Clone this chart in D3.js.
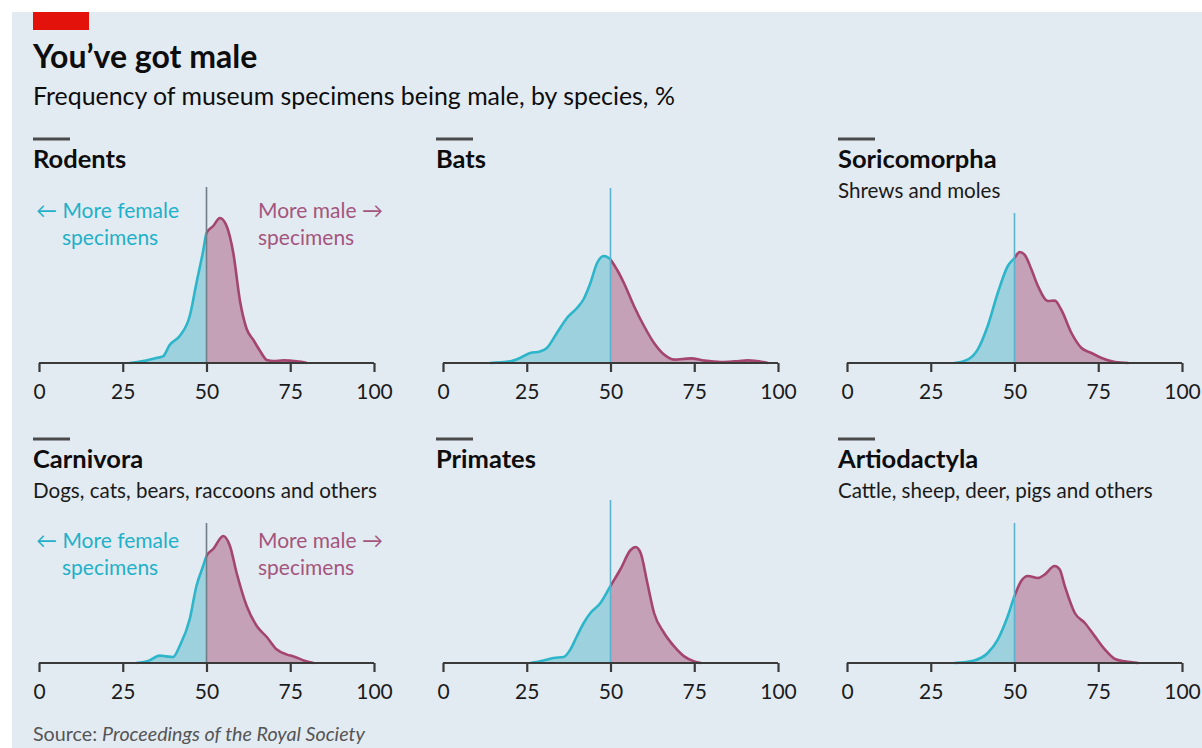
<!DOCTYPE html>
<html>
<head>
<meta charset="utf-8">
<script src="https://cdn.jsdelivr.net/npm/d3@7"></script>
<style>
  html, body { margin: 0; padding: 0; background: #ffffff; }
  svg { display: block; }
  text { font-family: Lato, "Open Sans", sans-serif; }
</style>
</head>
<body>
<svg id="chart" width="1202" height="748"></svg>
<script>
// Order names and descriptions, one small-multiple each
const orders = ["Rodents", "Bats", "Soricomorpha", "Carnivora", "Primates", "Artiodactyla"];
const orderNotes = ["", "", "Shrews and moles", "Dogs, cats, bears, raccoons and others", "", "Cattle, sheep, deer, pigs and others"];

// Density of species by share of specimens that are male: [% male, density]
const rodents = [[27,0],[31,0.1],[35,0.25],[37,0.33],[39,0.9],[42,1.35],[45,2.35],[47,4.0],[49,5.6],[50,6.5],[52,6.85],[54,7.25],[56,6.85],[58,5.5],[60,3.1],[62,1.7],[64,1.15],[66,0.6],[68,0.15],[70,0.1],[73,0.13],[77,0.08],[80,0]];
const bats = [[14,0],[20,0.08],[23,0.25],[26,0.5],[29,0.58],[31,0.75],[34,1.5],[37,2.25],[40,2.75],[42,3.2],[44,4.0],[46,5.0],[48,5.35],[49.5,5.25],[52,4.65],[54,4.0],[57,2.85],[60,1.85],[63,1.0],[66,0.42],[69,0.17],[74,0.23],[78,0.12],[83,0.05],[87,0.08],[91,0.13],[97,0]];
const soricomorpha = [[32,0],[36,0.17],[39,0.67],[42,1.85],[45,3.5],[48,4.85],[50,5.25],[51.5,5.55],[53,5.42],[55,4.7],[57,3.85],[60,3.1],[62,3.12],[64,2.65],[67,1.5],[70,0.75],[73,0.5],[76,0.25],[80,0.05],[84,0]];
const carnivora = [[29,0],[33,0.13],[36,0.37],[38,0.33],[40,0.3],[42,0.85],[45,2.2],[47,3.85],[49,4.85],[50,5.35],[52,5.7],[55,6.35],[57,5.85],[59,4.5],[62,2.85],[65,1.85],[68,1.3],[71,0.67],[74,0.42],[76,0.33],[79,0.13],[82,0]];
const primates = [[26,0],[30,0.13],[33,0.25],[36,0.3],[38,0.67],[40,1.35],[42,2.0],[44,2.5],[47,3.0],[50,3.85],[53,4.7],[56,5.65],[57.5,5.8],[59,5.5],[61,4.0],[63,2.5],[66,1.5],[69,0.83],[72,0.33],[75,0.08],[77,0]];
const artiodactyla = [[32,0],[38,0.13],[42,0.5],[45,1.17],[48,2.35],[50,3.35],[52,4.1],[54,4.35],[57,4.25],[59,4.42],[62,4.85],[63.5,4.67],[65,3.85],[68,2.5],[71,2.0],[74,1.33],[77,0.67],[80,0.2],[83,0.08],[87,0]];
const densities = [rodents, bats, soricomorpha, carnivora, primates, artiodactyla];

// Axis ticks and the parity split
const tickValues = [0, 25, 50, 75, 100];
const parity = 50;

// Text
const titleText = "You\u2019ve got male";
const subtitleText = "Frequency of museum specimens being male, by species, %";
const femaleLabel = ["\u2190 More female", "specimens"];
const maleLabel = ["More male \u2192", "specimens"];
const sourceLabel = "Source: ";
const sourceWork = "Proceedings of the Royal Society";

// ---- layout & style ----
const W = 1202, H = 748;
const colX = [39, 443, 847];
const headerX = [33, 436, 838];
const plotW = 335;
const rowAxisY = [363, 663];
const pxPerUnit = 20;
// height of the 50% reference line above each axis
const refLineHeight = [176, 175, 150, 140, 163, 140];
// panels that carry the female/male annotation, with first-line baseline offset from axis
const annotated = { 0: -145, 3: -115 };
const refColor = ["#6f7e88", "#5ab3cf", "#5ab3cf", "#6f7e88", "#5ab3cf", "#5ab3cf"];

const C = {
  bg: "#e3ebf2",
  red: "#e3120b",
  ink: "#0d0d0d",
  axis: "#3a3a3a",
  cyan: "#2db5ca",
  cyanFill: "#9ed1de",
  pink: "#a3456f",
  pinkFill: "#c4a1b6",
  cyanText: "#1fb1c9",
  pinkText: "#a4557d",
  source: "#555555"
};

const svg = d3.select("#chart");

svg.append("rect").attr("x", 12).attr("y", 12).attr("width", W - 12).attr("height", H - 12).attr("fill", C.bg);
svg.append("rect").attr("x", 33).attr("y", 12).attr("width", 56).attr("height", 18).attr("fill", C.red);

svg.append("text").attr("x", 33).attr("y", 68)
  .attr("font-size", 32).attr("font-weight", 700).attr("fill", C.ink)
  .text(titleText);
svg.append("text").attr("x", 33).attr("y", 105)
  .attr("font-size", 24.9).attr("fill", C.ink)
  .text(subtitleText);

const src = svg.append("text").attr("x", 33).attr("y", 741)
  .attr("font-size", 19.7).attr("fill", C.source);
src.append("tspan").text(sourceLabel);
src.append("tspan").attr("font-style", "italic").text(sourceWork);

const defs = svg.append("defs");

orders.forEach((name, i) => {
  const col = i % 3, row = Math.floor(i / 3);
  const x0 = colX[col];
  const axisY = rowAxisY[row];
  const x = d3.scaleLinear().domain([0, 100]).range([x0, x0 + plotW]);
  const y = d3.scaleLinear().domain([0, 8]).range([axisY, axisY - 8 * pxPerUnit]);
  const g = svg.append("g").attr("class", "panel");

  // header
  const hx = headerX[col];
  g.append("rect").attr("x", hx).attr("y", axisY - 225.5).attr("width", 37).attr("height", 3).attr("fill", "#4a4a4a");
  g.append("text").attr("x", hx).attr("y", axisY - 195)
    .attr("font-size", 25.5).attr("font-weight", 700).attr("fill", C.ink).text(name);
  if (orderNotes[i]) {
    g.append("text").attr("x", hx).attr("y", axisY - 165)
      .attr("font-size", 20.6).attr("fill", "#1a1a1a").text(orderNotes[i]);
  }

  // split area into female (<50) and male (>50) halves
  const clipL = "clipL" + i, clipR = "clipR" + i;
  defs.append("clipPath").attr("id", clipL).append("rect")
    .attr("x", x0 - 10).attr("y", axisY - 250).attr("width", x(parity) - x0 + 10).attr("height", 252);
  defs.append("clipPath").attr("id", clipR).append("rect")
    .attr("x", x(parity)).attr("y", axisY - 250).attr("width", plotW - (x(parity) - x0) + 10).attr("height", 252);

  const area = d3.area().x(d => x(d[0])).y0(axisY).y1(d => y(d[1])).curve(d3.curveMonotoneX);
  const line = d3.line().x(d => x(d[0])).y(d => y(d[1])).curve(d3.curveMonotoneX);
  const data = densities[i];

  g.append("path").datum(data).attr("d", area).attr("fill", C.cyanFill).attr("clip-path", `url(#${clipL})`);
  g.append("path").datum(data).attr("d", area).attr("fill", C.pinkFill).attr("clip-path", `url(#${clipR})`);
  g.append("path").datum(data).attr("d", line).attr("fill", "none").attr("stroke", C.cyan)
    .attr("stroke-width", 2.6).attr("stroke-linejoin", "round").attr("clip-path", `url(#${clipL})`);
  g.append("path").datum(data).attr("d", line).attr("fill", "none").attr("stroke", C.pink)
    .attr("stroke-width", 2.6).attr("stroke-linejoin", "round").attr("clip-path", `url(#${clipR})`);

  // 50% reference line
  g.append("line").attr("x1", x(parity)).attr("x2", x(parity))
    .attr("y1", axisY - refLineHeight[i]).attr("y2", axisY)
    .attr("stroke", refColor[i]).attr("stroke-width", 1.6);

  // x axis
  const axis = d3.axisBottom(x).tickValues(tickValues).tickSize(9).tickPadding(12).tickFormat(d3.format("d"));
  const ag = g.append("g").attr("transform", `translate(0,${axisY})`).call(axis);
  ag.select(".domain").attr("stroke", C.axis).attr("stroke-width", 2.2).attr("d", `M${x0},0H${x0 + plotW}`);
  ag.selectAll(".tick line").attr("stroke", C.axis).attr("stroke-width", 2.2);
  ag.selectAll(".tick text").attr("font-family", "Lato, 'Open Sans', sans-serif")
    .attr("font-size", 21).attr("fill", "#1a1a1a");

  // annotations
  if (annotated[i] !== undefined) {
    const by = axisY + annotated[i];
    femaleLabel.forEach((t, k) => {
      g.append("text").attr("x", k === 0 ? x0 - 3 : x0 + 23).attr("y", by + k * 27)
        .attr("font-size", 21).attr("fill", C.cyanText).text(t);
    });
    maleLabel.forEach((t, k) => {
      g.append("text").attr("x", x0 + 219).attr("y", by + k * 27)
        .attr("font-size", 21).attr("fill", C.pinkText).text(t);
    });
  }
});
</script>
</body>
</html>
